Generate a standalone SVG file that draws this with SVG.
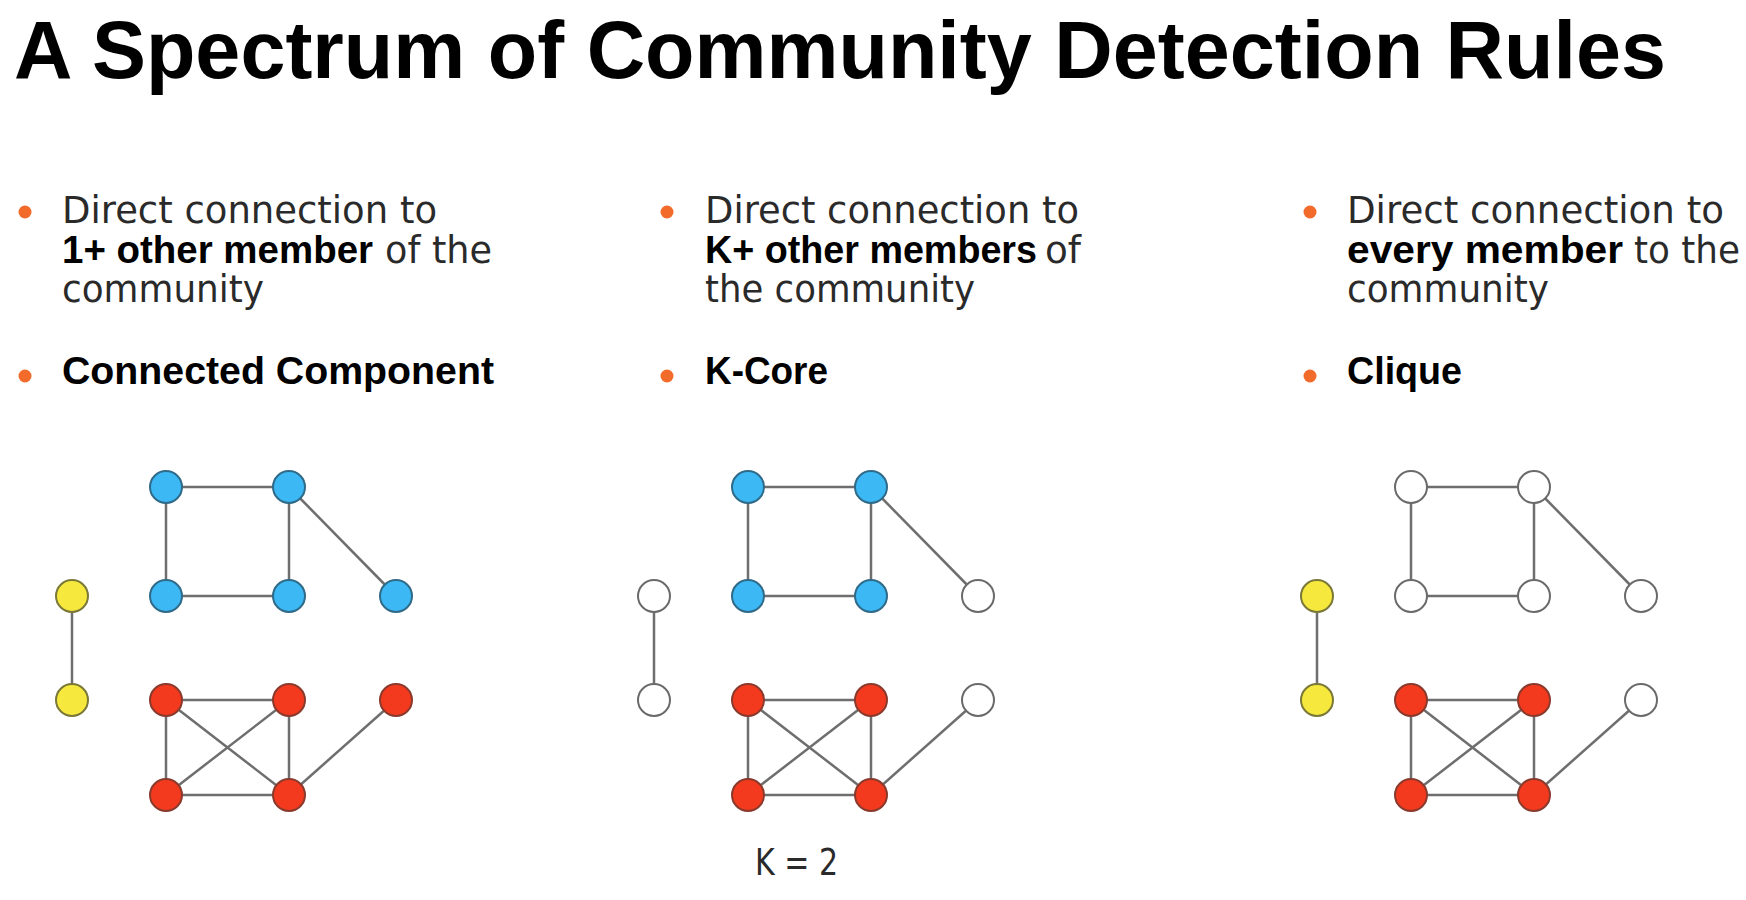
<svg xmlns="http://www.w3.org/2000/svg" width="1746" height="900" viewBox="0 0 1746 900">
<style>
.title{font-family:"Liberation Sans",Arial,sans-serif;font-weight:bold;font-size:81px;fill:#000}
.reg{font-family:"DejaVu Sans","Liberation Sans",sans-serif;font-size:37px;fill:#2a2a2a}
.bold{font-family:"Liberation Sans",Arial,sans-serif;font-weight:bold;font-size:38px;fill:#000}
.dot{fill:#f26b2a}
.edge{stroke:#6e6e6e;stroke-width:2.5;fill:none}
.n{stroke-width:2}
.blue{fill:#3cb8f4;stroke:#2f6a88}
.red{fill:#f43a1e;stroke:#8a3a2c}
.yel{fill:#f6e83c;stroke:#7a7838}
.wht{fill:#ffffff;stroke:#6a6a6a}
</style>
<rect width="1746" height="900" fill="#ffffff"/>
<text class="title" x="14" y="78" textLength="1652" lengthAdjust="spacingAndGlyphs">A Spectrum of Community Detection Rules</text>

<g id="col1-text">
<circle class="dot" cx="25" cy="212" r="6.5"/>
<text class="reg" x="62" y="223" textLength="375" lengthAdjust="spacingAndGlyphs">Direct connection to</text>
<text class="bold" x="62" y="263" textLength="311" lengthAdjust="spacingAndGlyphs">1+ other member</text>
<text class="reg" x="385" y="263" textLength="107" lengthAdjust="spacingAndGlyphs">of the</text>
<text class="reg" x="62" y="302" textLength="202" lengthAdjust="spacingAndGlyphs">community</text>
<circle class="dot" cx="25" cy="376" r="6.5"/>
<text class="bold" x="62" y="384" textLength="432" lengthAdjust="spacingAndGlyphs">Connected Component</text>
</g>

<g id="col2-text">
<circle class="dot" cx="667" cy="212" r="6.5"/>
<text class="reg" x="705" y="223" textLength="374" lengthAdjust="spacingAndGlyphs">Direct connection to</text>
<text class="bold" x="705" y="263" textLength="332" lengthAdjust="spacingAndGlyphs">K+ other members</text>
<text class="reg" x="1045" y="263" textLength="36" lengthAdjust="spacingAndGlyphs">of</text>
<text class="reg" x="705" y="302" textLength="270" lengthAdjust="spacingAndGlyphs">the community</text>
<circle class="dot" cx="667" cy="376" r="6.5"/>
<text class="bold" x="705" y="384" textLength="123" lengthAdjust="spacingAndGlyphs">K-Core</text>
</g>

<g id="col3-text">
<circle class="dot" cx="1310" cy="212" r="6.5"/>
<text class="reg" x="1347" y="223" textLength="377" lengthAdjust="spacingAndGlyphs">Direct connection to</text>
<text class="bold" x="1347" y="263" textLength="276" lengthAdjust="spacingAndGlyphs">every member</text>
<text class="reg" x="1634" y="263" textLength="106" lengthAdjust="spacingAndGlyphs">to the</text>
<text class="reg" x="1347" y="302" textLength="202" lengthAdjust="spacingAndGlyphs">community</text>
<circle class="dot" cx="1310" cy="376" r="6.5"/>
<text class="bold" x="1347" y="384" textLength="115" lengthAdjust="spacingAndGlyphs">Clique</text>
</g>

<g id="connectors">
<g id="edges-p1">
<line class="edge" x1="72" y1="596" x2="72" y2="700"/>
<line class="edge" x1="166" y1="487" x2="289" y2="487"/>
<line class="edge" x1="166" y1="487" x2="166" y2="596"/>
<line class="edge" x1="289" y1="487" x2="289" y2="596"/>
<line class="edge" x1="166" y1="596" x2="289" y2="596"/>
<line class="edge" x1="289" y1="487" x2="396" y2="596"/>
<line class="edge" x1="166" y1="700" x2="289" y2="700"/>
<line class="edge" x1="166" y1="700" x2="166" y2="795"/>
<line class="edge" x1="289" y1="700" x2="289" y2="795"/>
<line class="edge" x1="166" y1="795" x2="289" y2="795"/>
<line class="edge" x1="166" y1="700" x2="289" y2="795"/>
<line class="edge" x1="289" y1="700" x2="166" y2="795"/>
<line class="edge" x1="289" y1="795" x2="396" y2="700"/>
</g>
<g id="edges-p2">
<line class="edge" x1="654" y1="596" x2="654" y2="700"/>
<line class="edge" x1="748" y1="487" x2="871" y2="487"/>
<line class="edge" x1="748" y1="487" x2="748" y2="596"/>
<line class="edge" x1="871" y1="487" x2="871" y2="596"/>
<line class="edge" x1="748" y1="596" x2="871" y2="596"/>
<line class="edge" x1="871" y1="487" x2="978" y2="596"/>
<line class="edge" x1="748" y1="700" x2="871" y2="700"/>
<line class="edge" x1="748" y1="700" x2="748" y2="795"/>
<line class="edge" x1="871" y1="700" x2="871" y2="795"/>
<line class="edge" x1="748" y1="795" x2="871" y2="795"/>
<line class="edge" x1="748" y1="700" x2="871" y2="795"/>
<line class="edge" x1="871" y1="700" x2="748" y2="795"/>
<line class="edge" x1="871" y1="795" x2="978" y2="700"/>
</g>
<g id="edges-p3">
<line class="edge" x1="1317" y1="596" x2="1317" y2="700"/>
<line class="edge" x1="1411" y1="487" x2="1534" y2="487"/>
<line class="edge" x1="1411" y1="487" x2="1411" y2="596"/>
<line class="edge" x1="1534" y1="487" x2="1534" y2="596"/>
<line class="edge" x1="1411" y1="596" x2="1534" y2="596"/>
<line class="edge" x1="1534" y1="487" x2="1641" y2="596"/>
<line class="edge" x1="1411" y1="700" x2="1534" y2="700"/>
<line class="edge" x1="1411" y1="700" x2="1411" y2="795"/>
<line class="edge" x1="1534" y1="700" x2="1534" y2="795"/>
<line class="edge" x1="1411" y1="795" x2="1534" y2="795"/>
<line class="edge" x1="1411" y1="700" x2="1534" y2="795"/>
<line class="edge" x1="1534" y1="700" x2="1411" y2="795"/>
<line class="edge" x1="1534" y1="795" x2="1641" y2="700"/>
</g>
</g>

<g id="panel1">
<g id="p1-y1"><circle class="n yel" cx="72" cy="596" r="16"/></g>
<g id="p1-y2"><circle class="n yel" cx="72" cy="700" r="16"/></g>
<g id="p1-b1"><circle class="n blue" cx="166" cy="487" r="16"/></g>
<g id="p1-b2"><circle class="n blue" cx="289" cy="487" r="16"/></g>
<g id="p1-b3"><circle class="n blue" cx="166" cy="596" r="16"/></g>
<g id="p1-b4"><circle class="n blue" cx="289" cy="596" r="16"/></g>
<g id="p1-b5"><circle class="n blue" cx="396" cy="596" r="16"/></g>
<g id="p1-r1"><circle class="n red" cx="166" cy="700" r="16"/></g>
<g id="p1-r2"><circle class="n red" cx="289" cy="700" r="16"/></g>
<g id="p1-r3"><circle class="n red" cx="396" cy="700" r="16"/></g>
<g id="p1-r4"><circle class="n red" cx="166" cy="795" r="16"/></g>
<g id="p1-r5"><circle class="n red" cx="289" cy="795" r="16"/></g>
</g>

<g id="panel2">
<g id="p2-y1"><circle class="n wht" cx="654" cy="596" r="16"/></g>
<g id="p2-y2"><circle class="n wht" cx="654" cy="700" r="16"/></g>
<g id="p2-b1"><circle class="n blue" cx="748" cy="487" r="16"/></g>
<g id="p2-b2"><circle class="n blue" cx="871" cy="487" r="16"/></g>
<g id="p2-b3"><circle class="n blue" cx="748" cy="596" r="16"/></g>
<g id="p2-b4"><circle class="n blue" cx="871" cy="596" r="16"/></g>
<g id="p2-b5"><circle class="n wht" cx="978" cy="596" r="16"/></g>
<g id="p2-r1"><circle class="n red" cx="748" cy="700" r="16"/></g>
<g id="p2-r2"><circle class="n red" cx="871" cy="700" r="16"/></g>
<g id="p2-r3"><circle class="n wht" cx="978" cy="700" r="16"/></g>
<g id="p2-r4"><circle class="n red" cx="748" cy="795" r="16"/></g>
<g id="p2-r5"><circle class="n red" cx="871" cy="795" r="16"/></g>
<text class="reg" x="755" y="875" textLength="83" lengthAdjust="spacingAndGlyphs">K = 2</text>
</g>

<g id="panel3">
<g id="p3-y1"><circle class="n yel" cx="1317" cy="596" r="16"/></g>
<g id="p3-y2"><circle class="n yel" cx="1317" cy="700" r="16"/></g>
<g id="p3-b1"><circle class="n wht" cx="1411" cy="487" r="16"/></g>
<g id="p3-b2"><circle class="n wht" cx="1534" cy="487" r="16"/></g>
<g id="p3-b3"><circle class="n wht" cx="1411" cy="596" r="16"/></g>
<g id="p3-b4"><circle class="n wht" cx="1534" cy="596" r="16"/></g>
<g id="p3-b5"><circle class="n wht" cx="1641" cy="596" r="16"/></g>
<g id="p3-r1"><circle class="n red" cx="1411" cy="700" r="16"/></g>
<g id="p3-r2"><circle class="n red" cx="1534" cy="700" r="16"/></g>
<g id="p3-r3"><circle class="n wht" cx="1641" cy="700" r="16"/></g>
<g id="p3-r4"><circle class="n red" cx="1411" cy="795" r="16"/></g>
<g id="p3-r5"><circle class="n red" cx="1534" cy="795" r="16"/></g>
</g>
</svg>
